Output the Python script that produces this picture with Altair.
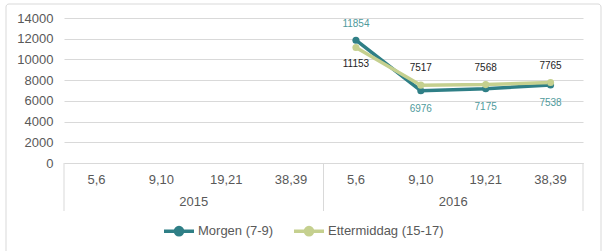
import altair as alt
import pandas as pd

years = ["2015", "2016"]
weeks = ["5,6", "9,10", "19,21", "38,39"]
series_names = ["Morgen (7-9)", "Ettermiddag (15-17)"]
morgen = {"2015": [None, None, None, None], "2016": [11854, 6976, 7175, 7538]}
ettermiddag = {"2015": [None, None, None, None], "2016": [11153, 7517, 7568, 7765]}
y_ticks = [0, 2000, 4000, 6000, 8000, 10000, 12000, 14000]

colors = ["#2f7f86", "#c5d08f"]
label_colors = {"Morgen (7-9)": "#4f9a9c", "Ettermiddag (15-17)": "#1e1e1e"}
FONT = "Liberation Sans"
GREY = "#595959"
GRID = "#d9d9d9"

keys = [f"{y}|{w}" for y in years for w in weeks]

rows = []
for name, vals in zip(series_names, [morgen, ettermiddag]):
    for y in years:
        for w, v in zip(weeks, vals[y]):
            key = f"{y}|{w}"
            rows.append({"series": name, "year": y, "week": w, "key": key,
                         "idx": keys.index(key), "value": v})
df = pd.DataFrame(rows)

W, H = 519, 145
xscale = alt.Scale(domain=keys, paddingInner=0, paddingOuter=0)
yscale = alt.Scale(domain=[0, 14000], nice=False)
cscale = alt.Scale(domain=series_names, range=colors)

x_axis = alt.Axis(title=None, labelExpr="split(datum.value, '|')[1]", ticks=False,
                  domainColor=GRID, labelColor=GREY, labelFont=FONT, labelFontSize=13,
                  labelPadding=10, labelAngle=0, grid=False)
y_axis = alt.Axis(title=None, values=y_ticks, format="d", domain=False, ticks=False,
                  gridColor=GRID, labelColor=GREY, labelFont=FONT, labelFontSize=13,
                  labelPadding=11, labelOverlap=False, tickCount=8)

def X(band=None):
    if band is None:
        return alt.X("key:N", scale=xscale, sort=keys, axis=x_axis)
    return alt.X("key:N", scale=xscale, sort=keys, axis=x_axis, bandPosition=band)

Y = alt.Y("value:Q", scale=yscale, axis=y_axis)

base = alt.Chart(df)

border = alt.Chart(pd.DataFrame({"a": [0]})).mark_rect(
    fillOpacity=0, stroke=GRID, strokeWidth=1, cornerRadius=3
).encode(x=alt.value(-58), x2=alt.value(537), y=alt.value(-14), y2=alt.value(260))

lines = base.mark_line(strokeWidth=3.5).encode(
    x=X(), y=Y,
    color=alt.Color("series:N", scale=cscale, sort=series_names,
                    legend=alt.Legend(title=None, orient="none", direction="horizontal",
                                      legendX=98, legendY=196,
                                      symbolType="M-1,0L1,0M-0.24,0A0.24,0.24,0,1,1,0.24,0A0.24,0.24,0,1,1,-0.24,0Z",
                                      symbolSize=900, symbolStrokeWidth=3.5,
                                      labelFont=FONT, labelFontSize=13, labelColor=GREY,
                                      labelOffset=2, columnPadding=13)),
    order=alt.Order("idx:Q"),
)

points = base.mark_point(filled=True, size=50, opacity=1).encode(
    x=X(), y=Y,
    color=alt.Color("series:N", scale=cscale, sort=series_names),
    fill=alt.Fill("series:N", scale=cscale, sort=series_names),
)

def labels(series, first, dy):
    cond = f"datum.week {'==' if first else '!='} '5,6'"
    return base.transform_filter(
        f"datum.series == '{series}' && datum.value != null && {cond}"
    ).mark_text(font=FONT, fontSize=10, dy=dy, color=label_colors[series]).encode(
        x=X(), y=Y,
        text=alt.Text("value:Q", format="d"),
    )

lab = [
    labels("Morgen (7-9)", True, -16),
    labels("Morgen (7-9)", False, 18),
    labels("Ettermiddag (15-17)", True, 17),
    labels("Ettermiddag (15-17)", False, -17),
]

sep_df = pd.DataFrame({"key": ["2015|5,6", "2016|5,6"]})
seps = alt.Chart(sep_df).mark_rule(color=GRID, strokeWidth=1).encode(
    x=X(0), y=alt.value(H), y2=alt.value(H + 48),
)
sep_end = alt.Chart(pd.DataFrame({"key": ["2016|38,39"]})).mark_rule(color=GRID, strokeWidth=1).encode(
    x=X(1), y=alt.value(H), y2=alt.value(H + 48),
)

year_df = pd.DataFrame({"key": [f"{y}|{weeks[1]}" for y in years], "year": years})
year_text = alt.Chart(year_df).mark_text(font=FONT, fontSize=13, color=GREY, baseline="middle").encode(
    x=X(1), y=alt.value(H + 39), text="year:N",
)

chart = alt.layer(border, seps, sep_end, year_text, lines, points, *lab).properties(
    width=W, height=H,
    padding={"left": 64, "top": 18, "right": 23, "bottom": 88},
    autosize=alt.AutoSizeParams(type="none"),
    background="white",
).configure_view(stroke=None)

chart.save("out.html", embed_options={"renderer": "svg", "actions": False})
